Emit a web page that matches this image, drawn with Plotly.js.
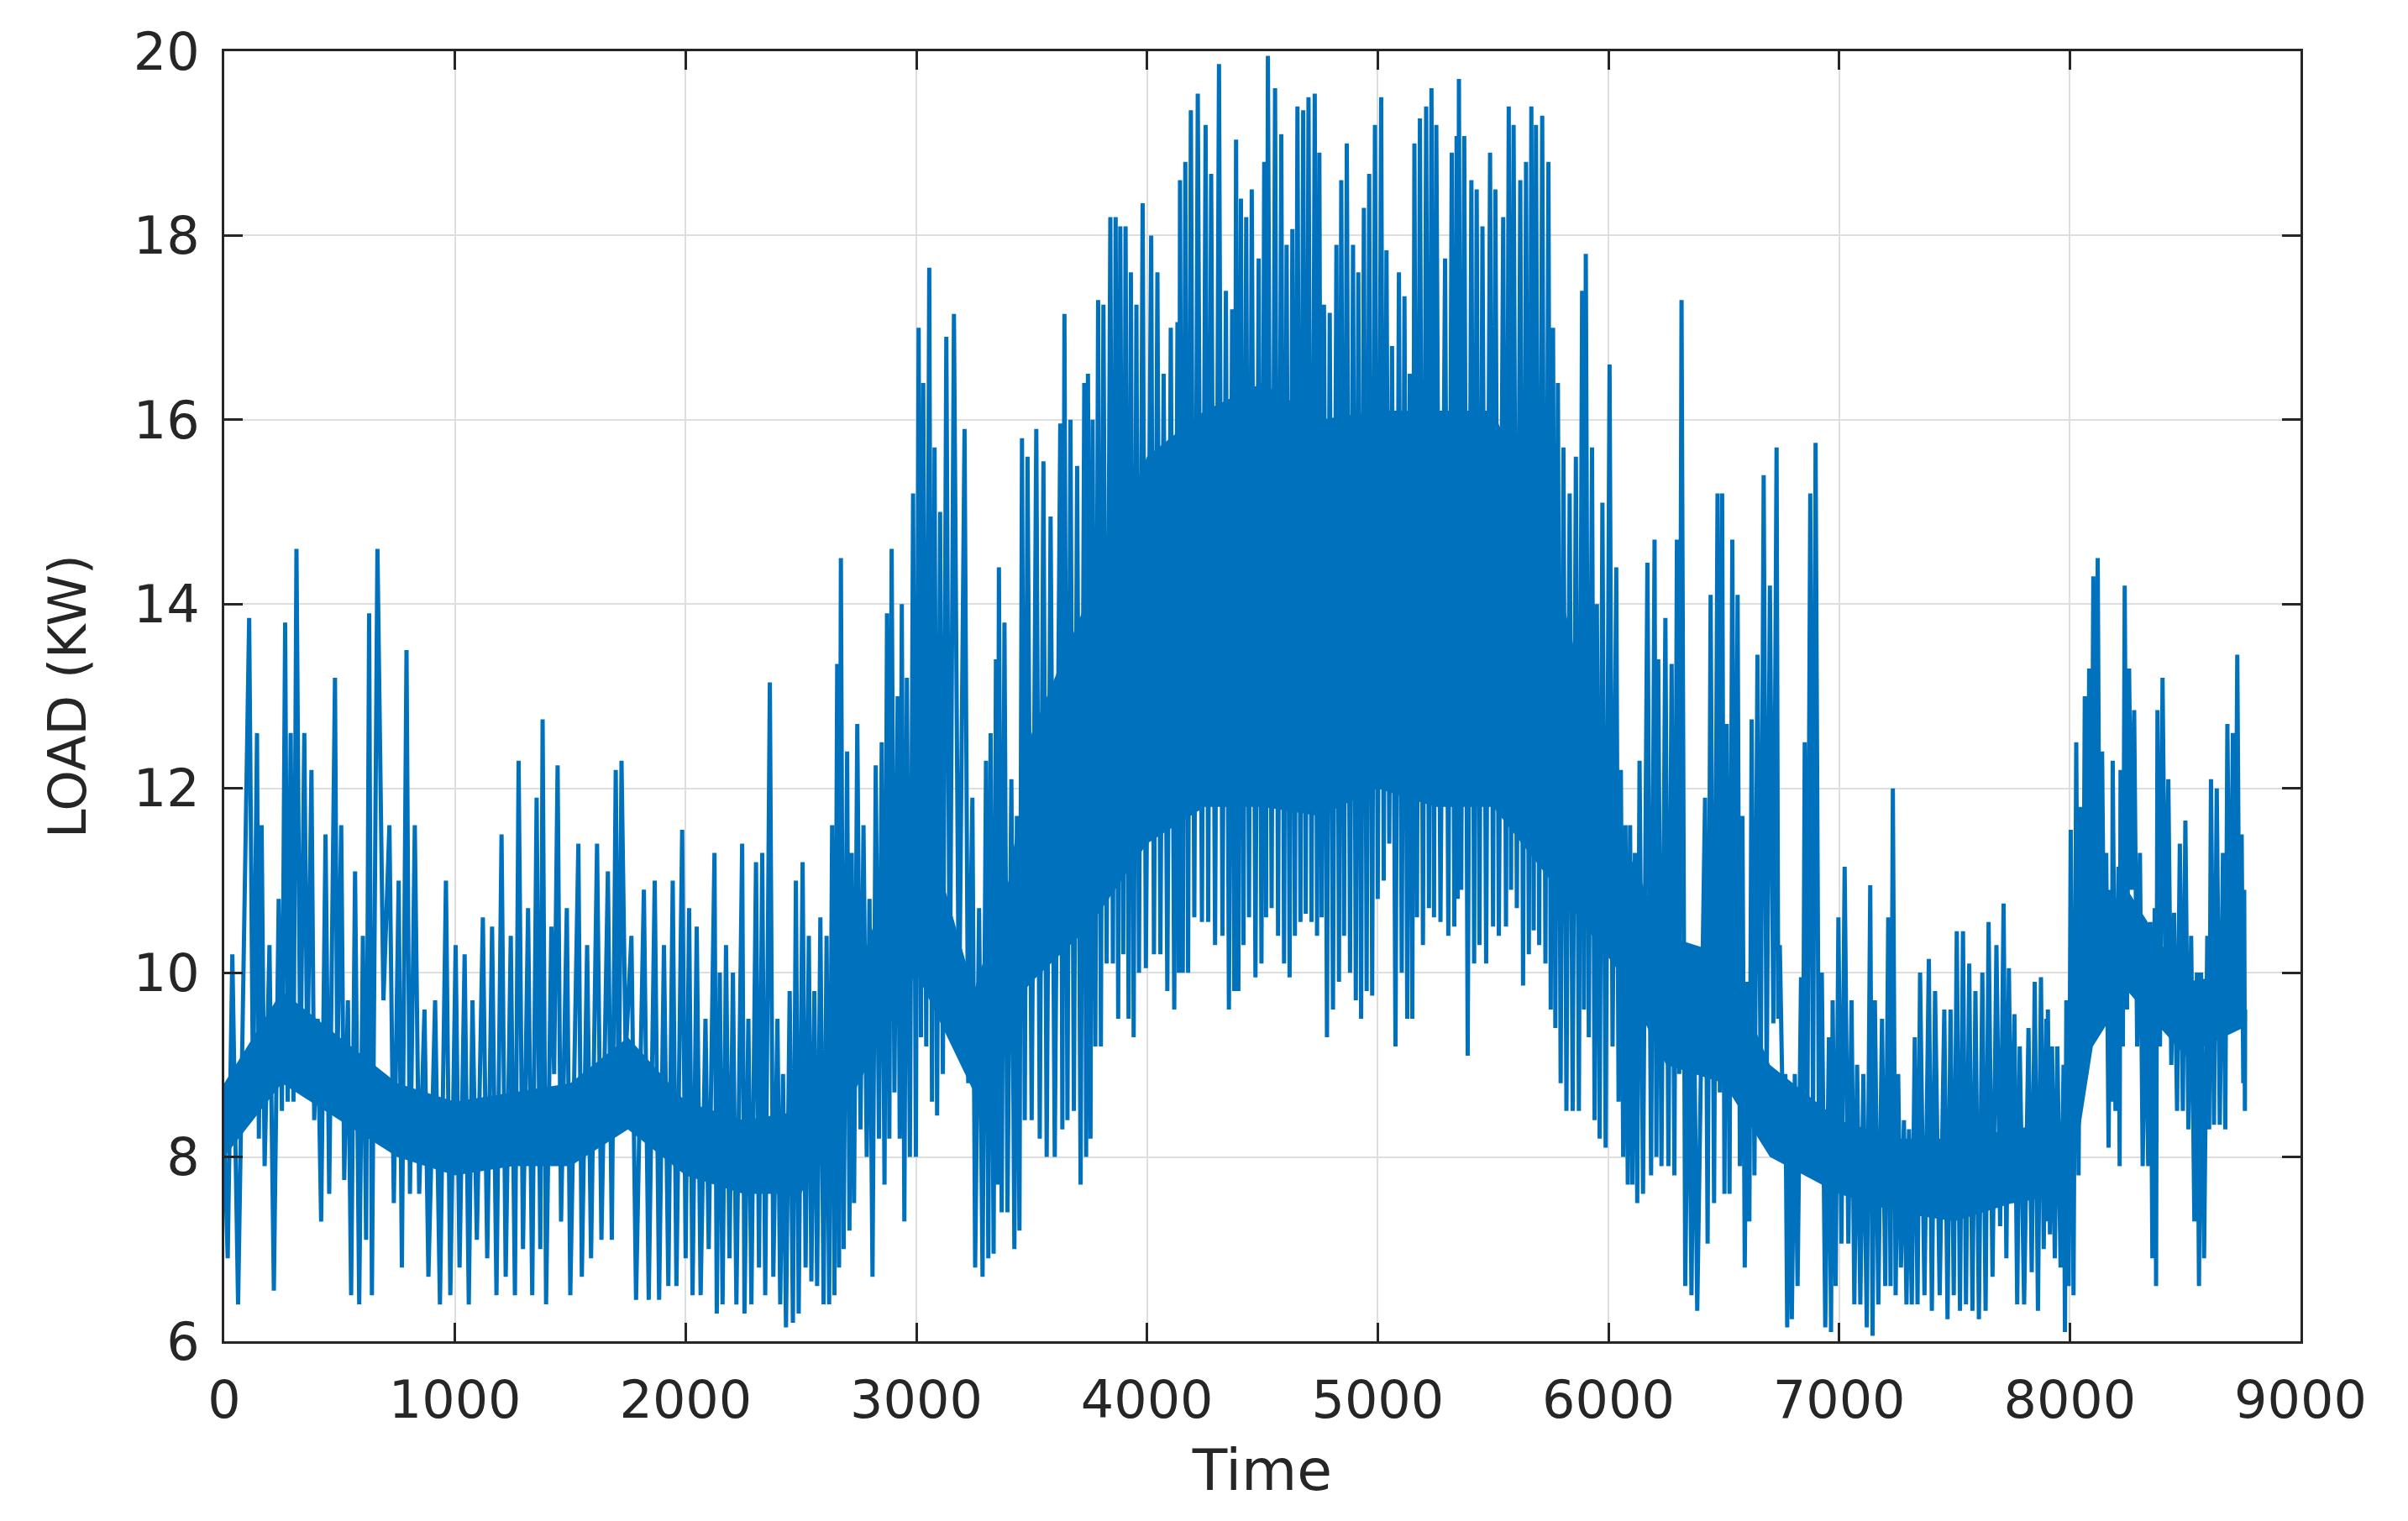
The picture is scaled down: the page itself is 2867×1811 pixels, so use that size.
<!DOCTYPE html>
<html>
<head>
<meta charset="utf-8">
<script src="https://cdn.plot.ly/plotly-3.0.1.min.js"></script>
<style>
  html, body { margin: 0; padding: 0; background: #fff; }
  #plotArea { width: 2867px; height: 1811px; }
</style>
</head>
<body>
<div id="plotArea"></div>
<script>
// Hourly load over one year, peaks and troughs
var hours = [
  0, 15, 35, 60, 108, 125, 142, 150, 162, 175, 196, 215, 236, 250, 264, 275, 288, 300, 313, 330,
  347, 360, 378, 390, 405, 420, 439, 455, 480, 490, 507, 520, 536, 550, 567, 585, 601, 615, 628, 640,
  664, 690, 716, 735, 756, 770, 790, 805, 826, 845, 868, 885, 914, 935, 961, 980, 1003, 1020, 1042, 1060,
  1076, 1095, 1121, 1140, 1161, 1180, 1202, 1220, 1242, 1260, 1276, 1295, 1317, 1335, 1354, 1370, 1380, 1395, 1418, 1430,
  1445, 1460, 1485, 1500, 1535, 1550, 1573, 1590, 1616, 1635, 1663, 1680, 1697, 1710, 1722, 1740, 1765, 1785, 1819, 1840,
  1866, 1885, 1906, 1925, 1944, 1960, 1985, 2000,
  2015, 2030, 2048, 2065, 2086, 2100, 2125, 2135, 2148, 2160, 2175, 2190, 2205, 2220, 2245, 2255, 2272, 2285, 2305, 2318,
  2332, 2345, 2365, 2380, 2398, 2410, 2422, 2435, 2451, 2465, 2478, 2490, 2507, 2520, 2534, 2545, 2558, 2570, 2584, 2598,
  2611, 2622, 2635, 2645, 2657, 2665, 2673, 2685, 2700, 2710, 2720, 2730, 2744, 2758, 2771, 2785, 2797, 2810, 2824, 2838,
  2850, 2862, 2873, 2883, 2893, 2905, 2919, 2928, 2937, 2948, 2959, 2972, 2986, 2998, 3010, 3020, 3030, 3043, 3056, 3068,
  3079, 3090, 3103, 3115, 3130, 3145, 3163, 3185, 3209, 3225, 3243, 3255, 3272, 3287, 3302, 3312, 3322, 3335, 3345, 3352,
  3358, 3370, 3382, 3395, 3412, 3425, 3436, 3447, 3458, 3470, 3482, 3500, 3520, 3535, 3551, 3565, 3582, 3600, 3624, 3633,
  3642, 3655, 3668, 3683, 3697, 3712, 3728, 3736, 3744, 3755, 3764, 3776, 3788, 3800, 3811, 3825, 3841, 3852, 3864, 3875,
  3884, 3897,
  3907, 3920, 3930, 3942, 3954, 3965, 3981, 3995, 4018, 4030, 4045, 4058, 4072, 4088, 4103, 4118, 4132, 4138, 4143, 4155,
  4166, 4178, 4190, 4205, 4220, 4238, 4254, 4265, 4278, 4295, 4312, 4327, 4342, 4355, 4369, 4378, 4386, 4396, 4407, 4418,
  4430, 4442, 4454, 4470, 4484, 4496, 4508, 4516, 4524, 4540, 4555, 4568, 4582, 4594, 4605, 4618, 4630, 4641, 4652, 4665,
  4677, 4688, 4700, 4713, 4727, 4737, 4747, 4757, 4767, 4780, 4792, 4806, 4821, 4832, 4842, 4854, 4866, 4880, 4893, 4905,
  4916, 4928, 4940, 4952, 4963, 4976, 4988, 5000, 5015, 5026, 5038, 5050, 5062, 5077, 5092, 5104, 5116, 5128, 5139, 5150,
  5159, 5170, 5183, 5196, 5210, 5222, 5233, 5244, 5254, 5272, 5292, 5306, 5321, 5332, 5342, 5347, 5352, 5362, 5375, 5390,
  5406, 5418, 5429, 5441, 5454, 5470, 5487, 5500, 5510, 5525, 5544, 5556, 5568, 5578, 5589, 5603, 5618, 5630, 5643, 5655,
  5666, 5676, 5686, 5700, 5713, 5727, 5740, 5750, 5760, 5770, 5781, 5793, 5805, 5818, 5832, 5845, 5859, 5872, 5886, 5894,
  5902, 5915, 5929, 5940, 5950, 5962, 5974, 5988,
  6005, 6018, 6034, 6044, 6054, 6064, 6074, 6084, 6094, 6104, 6115, 6125, 6135, 6150, 6169, 6185, 6200, 6208, 6216, 6230,
  6247, 6260, 6274, 6286, 6297, 6307, 6317, 6333, 6348, 6360, 6372, 6385, 6419, 6430, 6443, 6458, 6473, 6483, 6493, 6503,
  6513, 6525, 6537, 6548, 6560, 6570, 6581, 6591, 6601, 6611, 6621, 6633, 6646, 6660, 6673, 6686, 6700, 6715, 6729, 6736,
  6743, 6755, 6767, 6775, 6783, 6795, 6808, 6820, 6835, 6843, 6851, 6863, 6875, 6887, 6898, 6912, 6925, 6940, 6956, 6965,
  6972, 6985, 6997, 7010, 7024, 7040, 7054, 7066, 7078, 7092, 7105, 7120, 7135, 7145, 7155, 7170, 7186, 7200, 7213, 7223,
  7233, 7245, 7256, 7268, 7281, 7292, 7303, 7315, 7328, 7340, 7351, 7370, 7389, 7402, 7416, 7436, 7456, 7470, 7483, 7497,
  7510, 7524, 7537, 7550, 7564, 7578, 7591, 7606, 7621, 7635, 7648, 7665, 7682, 7698, 7713, 7725, 7736, 7748, 7760, 7772,
  7783, 7802, 7821, 7835, 7848, 7862, 7875, 7887, 7898, 7902, 7905, 7914, 7923, 7935, 7946, 7960, 7973, 7979, 7985, 7995,
  8004, 8016, 8028, 8038, 8047, 8056, 8065, 8075, 8084, 8093, 8102, 8112, 8121, 8130, 8140, 8150, 8158, 8168, 8177, 8182,
  8186, 8198, 8211, 8216, 8220, 8230, 8238, 8248, 8257, 8268, 8279, 8292, 8304, 8316, 8328, 8340, 8349, 8358, 8368, 8374,
  8380, 8391, 8402, 8415, 8427, 8440, 8452, 8465, 8477, 8490, 8501, 8514, 8526, 8540, 8551, 8560, 8569, 8582, 8596, 8604,
  8612, 8625, 8637, 8650, 8664, 8674, 8683, 8695, 8707, 8716, 8726, 8736, 8745, 8752, 8756, 8759, 8760
];
var load = [
  8.2, 6.9, 10.2, 6.4, 13.85, 8.6, 12.6, 8.2, 11.6, 7.9, 10.3, 6.55, 10.8, 8.5, 13.8, 8.6, 12.6, 8.6, 14.6, 8.8,
  12.6, 8.9, 12.2, 8.4, 9.5, 7.3, 11.5, 7.6, 13.2, 8.9, 11.6, 7.75, 9.7, 6.5, 11.1, 6.4, 10.4, 7.1, 13.9, 6.5,
  14.6, 9.7, 11.6, 7.5, 11.0, 6.8, 13.5, 7.6, 11.6, 7.6, 9.6, 6.7, 9.7, 6.4, 11.0, 6.5, 10.3, 6.8, 10.2, 6.4,
  9.7, 7.1, 10.6, 6.9, 10.5, 6.5, 11.5, 6.7, 10.4, 6.5, 12.3, 7.0, 10.7, 6.5, 11.9, 7.0, 12.75, 6.4, 10.5, 8.9,
  12.25, 7.3, 10.7, 6.5, 11.4, 6.7, 10.3, 6.9, 11.4, 7.1, 11.1, 7.1, 12.2, 8.35, 12.3, 9.1, 10.4, 6.45, 10.9, 6.45,
  11.0, 6.45, 10.3, 6.6, 11.0, 6.6, 11.55, 6.9,
  10.7, 6.5, 10.5, 6.5, 9.5, 7.0, 11.3, 6.3, 10.0, 6.4, 10.3, 6.9, 10.0, 6.4, 11.4, 6.3, 9.5, 6.4, 11.2, 6.8,
  11.3, 6.5, 13.15, 6.7, 9.5, 6.4, 8.9, 6.15, 9.8, 6.2, 11.0, 6.3, 11.2, 6.8, 10.4, 6.65, 9.8, 6.6, 10.6, 6.4,
  10.4, 6.4, 11.6, 6.5, 13.35, 6.8, 14.5, 7.0, 12.4, 7.2, 11.3, 7.5, 12.7, 8.3, 11.6, 8.0, 10.8, 6.7, 12.25, 8.2,
  12.5, 7.7, 13.9, 8.2, 14.6, 8.7, 13.0, 8.2, 14.0, 7.3, 13.2, 8.0, 15.2, 8.0, 17.0, 9.3, 16.4, 9.2, 17.65, 8.6,
  15.7, 8.45, 15.0, 8.9, 16.9, 9.4, 17.15, 9.3, 15.9, 8.8, 11.9, 6.8, 10.7, 6.7, 12.3, 6.9, 12.6, 6.95, 13.4, 7.7,
  14.4, 7.4, 13.8, 7.4, 12.1, 7.0, 11.7, 7.2, 15.8, 8.4, 15.6, 8.4, 15.9, 8.2, 15.55, 8.0, 14.95, 8.0, 15.96, 8.3,
  17.15, 8.4, 16.0, 8.5, 15.5, 7.7, 16.4, 8.0, 16.5, 8.2, 16.0, 9.2, 17.3, 9.2, 17.25, 10.1, 18.2, 10.1, 18.2, 9.5,
  18.1, 10.2,
  18.1, 9.5, 17.6, 9.3, 17.25, 10.0, 18.35, 10.05, 18.0, 10.2, 17.6, 10.2, 16.5, 9.8, 17.0, 9.6, 17.06, 10.0, 18.6, 10.0,
  18.8, 10.0, 19.36, 10.6, 19.54, 10.55, 19.2, 10.55, 18.67, 10.3, 19.86, 10.4, 17.4, 9.6, 17.2, 9.8, 19.04, 9.8, 18.4, 10.3,
  18.2, 10.6, 18.5, 9.95, 17.75, 10.1, 18.8, 10.6, 19.95, 10.7, 19.6, 10.4, 19.1, 10.1, 17.9, 9.95, 18.07, 10.4, 19.4, 10.55,
  19.36, 10.64, 19.5, 10.55, 19.54, 10.4, 18.9, 10.6, 17.25, 9.3, 17.16, 9.6, 17.9, 9.9, 18.6, 10.4, 19.0, 10.0, 17.9, 9.7,
  17.6, 9.5, 18.3, 9.8, 18.67, 9.75, 19.2, 10.8, 19.5, 11.0, 17.84, 11.4, 16.8, 9.2, 17.6, 10.0, 17.34, 9.5, 16.5, 9.5,
  19.0, 10.6, 19.27, 10.3, 19.4, 10.7, 19.6, 10.6, 19.2, 10.55, 17.75, 10.4, 18.9, 10.5, 19.08, 10.8, 19.7, 10.9, 19.08, 9.1,
  18.6, 10.1, 18.5, 10.3, 18.1, 10.1, 18.9, 10.5, 18.5, 10.4, 18.2, 10.5, 19.4, 10.9, 19.2, 10.7, 18.6, 9.86, 18.8, 10.2,
  19.4, 10.46, 19.2, 10.3, 19.3, 10.1, 18.8, 9.6, 17.0, 9.4, 16.4, 8.8, 15.7, 8.5, 15.2, 8.5, 15.6, 8.5, 17.4, 9.6,
  17.8, 9.3, 15.7, 8.4, 14.0, 8.2, 15.1, 8.1,
  16.6, 9.2, 14.4, 8.6, 12.2, 8.0, 11.6, 7.7, 11.6, 7.7, 11.3, 7.5, 12.3, 7.6, 14.45, 7.8, 14.7, 8.0, 13.4, 7.9,
  13.85, 7.9, 13.35, 7.8, 14.7, 8.9, 17.3, 6.6, 9.9, 6.5, 9.4, 6.33, 11.9, 7.06, 14.1, 7.5, 15.2, 8.7, 15.2, 7.6,
  12.7, 7.6, 14.7, 8.9, 14.1, 7.9, 11.7, 6.8, 9.9, 7.3, 12.75, 7.8, 13.45, 8.8, 15.4, 8.7, 14.2, 9.45, 15.7, 9.5,
  10.3, 8.6, 8.9, 6.15, 8.5, 6.24, 8.9, 6.6, 9.95, 8.0, 12.5, 8.6, 15.2, 8.4, 15.75, 8.4, 10.0, 6.15, 9.3, 6.1,
  9.7, 6.6, 10.6, 7.06, 11.15, 7.06, 9.7, 6.4, 9.0, 6.4, 8.9, 6.15, 10.95, 6.06, 9.7, 6.4, 9.5, 6.6, 10.6, 6.6,
  12.0, 6.5, 8.9, 6.8, 8.4, 6.4, 8.3, 6.4, 9.3, 6.4, 10.0, 6.5, 10.15, 6.33, 9.8, 6.5, 9.6, 6.24, 9.6, 6.5,
  10.45, 6.33, 10.45, 6.4, 10.1, 6.33, 9.8, 6.24, 10.0, 6.33, 10.55, 6.7, 10.3, 7.25, 10.75, 6.9, 10.05, 7.5, 9.55, 6.4,
  9.2, 6.4, 9.4, 6.75, 9.9, 6.33, 9.95, 7.0, 9.5, 7.3, 9.6, 7.16, 9.2, 6.9, 9.2, 6.8, 9.0, 6.1, 9.7, 6.6,
  11.55, 6.5, 12.5, 7.8, 11.8, 8.8, 13.0, 9.4, 13.3, 10.1, 14.3, 10.0, 14.5, 10.05, 12.4, 9.6, 11.3, 8.1, 10.9, 8.6,
  12.3, 8.5, 11.15, 7.9, 12.2, 9.2, 14.2, 9.6, 13.3, 10.9, 12.85, 9.2, 11.3, 7.9, 10.1, 7.9, 10.55, 6.9, 10.7, 6.6,
  12.85, 9.2, 13.2, 9.85, 12.1, 9.0, 10.65, 8.5, 11.4, 8.5, 11.65, 8.3, 10.4, 7.3, 10.0, 6.6, 10.0, 6.9, 10.4, 8.3,
  12.1, 8.35, 12.0, 8.35, 11.3, 8.3, 12.7, 9.4, 12.6, 9.45, 13.45, 9.6, 11.5, 8.8, 10.9, 8.5, 9.6
];

// Solid core of the trace, where the daily swings overlap
var coreHour = [0, 250, 500, 750, 1000, 1250, 1500, 1750, 2000, 2250, 2500, 2750, 3000, 3250, 3400, 3500, 3750, 4000,
  4250, 4500, 4750, 5000, 5250, 5500, 5750, 5900, 6050, 6250, 6500, 6700, 7000, 7250, 7500, 7750, 8000, 8100,
  8250, 8500, 8750];
var coreLow = [8.0, 8.8, 8.4, 8.0, 7.8, 7.9, 7.9, 8.3, 7.8, 7.6, 7.6, 8.8, 10.0, 8.7, 9.6, 9.9, 10.5, 11.4,
  11.8, 11.8, 11.7, 12.0, 11.8, 11.8, 11.0, 10.5, 10.0, 9.0, 8.8, 8.0, 7.6, 7.4, 7.3, 7.5, 7.6, 9.2,
  9.8, 9.1, 9.4];
var coreHigh = [8.8, 9.8, 9.3, 8.8, 8.6, 8.7, 8.8, 9.3, 8.6, 8.4, 8.5, 10.0, 12.0, 9.8, 11.0, 12.6, 14.1, 15.6,
  16.1, 16.4, 16.0, 16.1, 16.1, 16.1, 14.6, 13.0, 11.5, 10.4, 10.2, 9.0, 8.4, 8.2, 8.2, 8.3, 8.4, 10.6,
  10.9, 9.9, 10.0];

var blue = "#0072BD";

var coreBottom = {
  x: coreHour, y: coreLow,
  mode: "lines", line: {width: 0, color: blue},
  hoverinfo: "skip", showlegend: false
};
var coreTop = {
  x: coreHour, y: coreHigh,
  mode: "lines", line: {width: 0, color: blue},
  fill: "tonexty", fillcolor: blue,
  hoverinfo: "skip", showlegend: false
};
var trace = {
  x: hours, y: load,
  mode: "lines", line: {width: 5, color: blue},
  showlegend: false
};

var axisStyle = {
  showline: true, mirror: "ticks", linecolor: "#262626", linewidth: 3,
  ticks: "inside", ticklen: 22, tickwidth: 3, tickcolor: "#262626",
  showgrid: true, gridcolor: "#dedede", gridwidth: 2, zeroline: false,
  tickfont: {family: "DejaVu Sans", size: 62, color: "#262626"}
};

var layout = {
  width: 2867, height: 1811,
  paper_bgcolor: "#ffffff", plot_bgcolor: "#ffffff",
  margin: {l: 267, r: 128, t: 61, b: 214},
  showlegend: false,
  xaxis: Object.assign({}, axisStyle, {
    range: [0, 9000], dtick: 1000, tick0: 0, ticklabelstandoff: 14,
    title: {text: "Time", font: {family: "DejaVu Sans", size: 68, color: "#262626"}, standoff: 24}
  }),
  yaxis: Object.assign({}, axisStyle, {
    range: [6, 20], dtick: 2, tick0: 6, ticklabelstandoff: 14,
    title: {text: "LOAD (KW)", font: {family: "DejaVu Sans", size: 62, color: "#262626"}, standoff: 36}
  })
};

Plotly.newPlot("plotArea", [coreBottom, coreTop, trace], layout, {staticPlot: true});
</script>
</body>
</html>
